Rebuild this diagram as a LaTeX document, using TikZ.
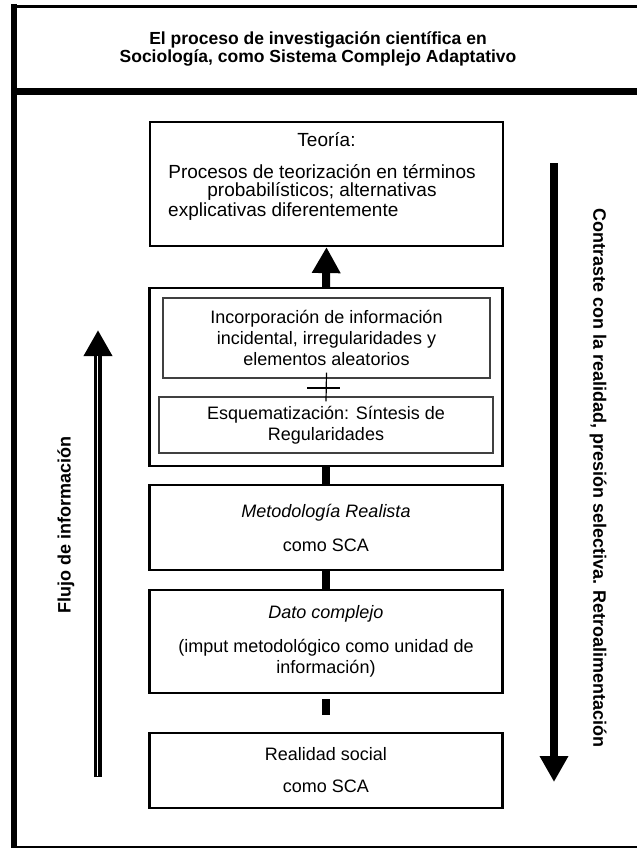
\documentclass[tikz,border=0pt]{standalone}
\usepackage{fontspec}
\setmainfont{Liberation Sans}
\usepackage{tikz}
\usetikzlibrary{arrows.meta,positioning,calc}

\tikzset{
  caja/.style={draw, line width=2.2pt, minimum width=353pt, align=center,
    font=\fontsize{18}{21}\selectfont},
  subcaja/.style={draw=black!75, line width=1.2pt, align=center,
    font=\fontsize{18}{21}\selectfont},
  txt/.style={font=\fontsize{19}{18}\selectfont, align=center, inner sep=0pt},
  barra/.style={line width=8pt},
  flecha/.style={line width=8pt, -{Triangle[length=26pt,width=27pt]}},
  rotulo/.style={font=\bfseries\fontsize{18}{21}\selectfont}
}

\begin{document}
\begin{tikzpicture}[x=1pt, y=-1pt]
  \useasboundingbox (0,0) rectangle (637,848);
  % marco
  \draw[line width=6pt] (14,4) -- (14,848);
  \draw[line width=3pt] (11,6.5) -- (637,6.5);
  \draw[line width=7pt] (11,91.5) -- (637,91.5);
  \draw[line width=2pt] (11,847) -- (637,847);
  \node[rotulo, align=center, font=\bfseries\fontsize{17.5}{18.5}\selectfont] (titulo) at (318,49)
    {El proceso de investigación científica en\\Sociología, como Sistema Complejo Adaptativo};

  % cajas
  \node[caja, minimum height=124pt] (teoria) at (326.5,184) {};
  \node[txt] (teoriaT) at (326.5,140) {Teoría:};
  \node[txt] (teoriaP) at (322,182) {Procesos de teorización en términos\\probabilísticos; alternativas};
  \node[txt, anchor=west] (teoriaQ) at (168,212) {explicativas diferentemente};

  \node[caja, minimum height=178pt] (grupo) at (326,377) {};
  \node[subcaja, minimum width=327pt, minimum height=80pt] (incorp) at (326.5,338)
    {Incorporación de información\\incidental, irregularidades y\\elementos aleatorios};
  \node[subcaja, minimum width=334pt, minimum height=56pt] (esquema) at (326,425)
    {Esquematización: Síntesis de\\Regularidades};
  \draw[line width=1.2pt] ([yshift=6pt]incorp.south) -- ([yshift=-5pt]esquema.north);
  \draw[line width=1.2pt] (307,388) -- (340,388);

  \node[caja, minimum height=85pt] (metodo) at (326,527.5)
    {\textit{Metodología Realista}\\[13pt]como SCA};
  \node[caja, minimum height=103pt] (dato) at (326,641.5)
    {\textit{Dato complejo}\\[13pt](imput metodológico como unidad de\\información)};
  \node[caja, minimum height=75pt] (realidad) at (326,770.5)
    {Realidad social\\[11pt]como SCA};

  % conectores
  \draw[flecha] (grupo.north) -- (teoria.south);
  \draw[barra] (metodo.north) -- (grupo.south);
  \draw[barra] (dato.north) -- (metodo.south);
  \coordinate (cola) at (326,715);
  \draw[barra] ([yshift=-5pt]dato.south) -- (cola);

  % flechas laterales
  \coordinate (flujoIni) at (98,777);
  \coordinate (flujoFin) at (98,330);
  \draw[flecha] (flujoIni) -- (flujoFin);
  \draw[white, line width=0.8pt] (97,776) -- (97,356);
  \node[rotulo, rotate=90] (flujo) at (66,525) {Flujo de información};

  \coordinate (contrIni) at (554,163);
  \coordinate (contrFin) at (554,782);
  \draw[flecha] (contrIni) -- (contrFin);
  \node[rotulo, rotate=-90] (contraste) at (598,478)
    {Contraste con la realidad, presión selectiva. Retroalimentación};
\end{tikzpicture}
\end{document}
